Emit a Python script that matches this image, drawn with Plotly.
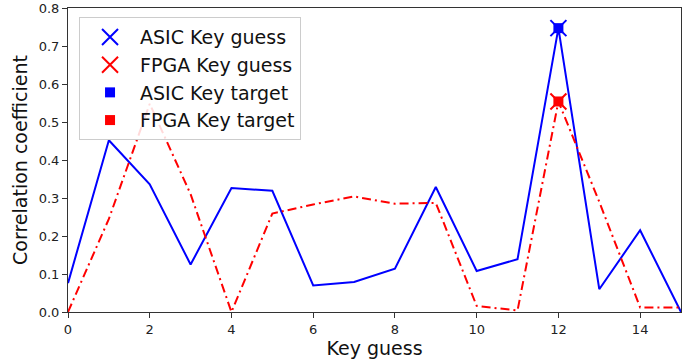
import plotly.graph_objects as go

key_guess = list(range(16))
asic_corr = [0.076, 0.452, 0.336, 0.125, 0.326, 0.319, 0.070, 0.079,
             0.114, 0.329, 0.108, 0.139, 0.747, 0.060, 0.215, 0.0]
fpga_corr = [0.0, 0.245, 0.548, 0.310, 0.0, 0.259, 0.283, 0.304,
             0.285, 0.287, 0.016, 0.004, 0.554, 0.290, 0.012, 0.012]
target_key = 12
x_ticks = [0, 2, 4, 6, 8, 10, 12, 14]
y_ticks = [0.0, 0.1, 0.2, 0.3, 0.4, 0.5, 0.6, 0.7, 0.8]

FONT = "DejaVu Sans"
fig = go.Figure()
fig.add_trace(go.Scatter(x=key_guess, y=asic_corr, mode="lines",
                         line=dict(color="blue", width=2), showlegend=False))
fig.add_trace(go.Scatter(x=key_guess, y=fpga_corr, mode="lines",
                         line=dict(color="red", width=2, dash="9px,4px,2px,4px"),
                         showlegend=False))
fig.add_trace(go.Scatter(x=[target_key], y=[asic_corr[target_key]], mode="markers",
                         name="ASIC Key guess",
                         marker=dict(symbol="x-thin", size=16, color="blue",
                                     line=dict(color="blue", width=2))))
fig.add_trace(go.Scatter(x=[target_key], y=[fpga_corr[target_key]], mode="markers",
                         name="FPGA Key guess",
                         marker=dict(symbol="x-thin", size=16, color="red",
                                     line=dict(color="red", width=2))))
fig.add_trace(go.Scatter(x=[target_key], y=[asic_corr[target_key]], mode="markers",
                         name="ASIC Key target",
                         marker=dict(symbol="square", size=10, color="blue")))
fig.add_trace(go.Scatter(x=[target_key], y=[fpga_corr[target_key]], mode="markers",
                         name="FPGA Key target",
                         marker=dict(symbol="square", size=10, color="red")))

axis_common = dict(showline=True, linecolor="#333", linewidth=1, mirror=True,
                   ticks="outside", ticklen=5, tickcolor="#333", showgrid=False,
                   zeroline=False, automargin=False,
                   tickfont=dict(family=FONT, size=13, color="#222"))
fig.update_xaxes(range=[0, 15], tickvals=x_ticks,
                 title=dict(text="Key guess", font=dict(family=FONT, size=19, color="#111"),
                            standoff=4),
                 **axis_common)
fig.update_yaxes(range=[0, 0.8], tickvals=y_ticks, tickformat=".1f",
                 title=dict(text="Correlation coefficient",
                            font=dict(family=FONT, size=19, color="#111"), standoff=6),
                 **axis_common)
fig.update_layout(
    width=697, height=360,
    margin=dict(l=68, r=16, t=8, b=48),
    plot_bgcolor="white", paper_bgcolor="white",
    font=dict(family=FONT),
    legend=dict(x=0.018, y=0.97, xanchor="left", yanchor="top",
                bgcolor="rgba(255,255,255,0.85)", bordercolor="#ccc", borderwidth=1,
                font=dict(family=FONT, size=19, color="#111"), tracegroupgap=0,
                itemsizing="trace", itemwidth=50),
)
fig.write_html("out.html")
